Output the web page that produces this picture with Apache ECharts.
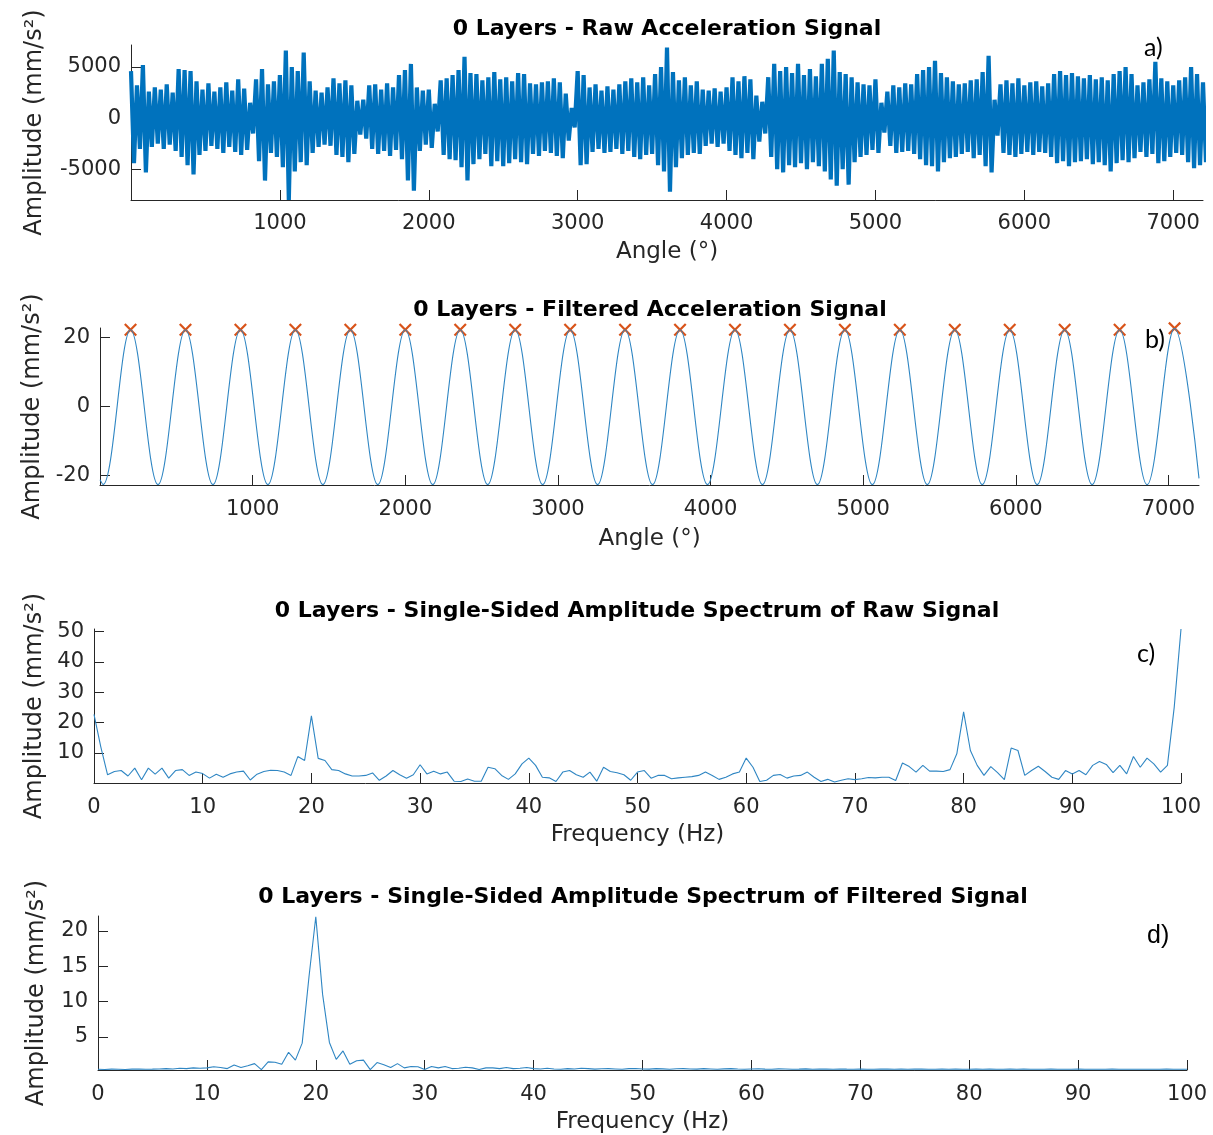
<!DOCTYPE html>
<html><head><meta charset="utf-8">
<script src="https://cdn.jsdelivr.net/npm/echarts@6/dist/echarts.min.js"></script>
<style>html,body{margin:0;padding:0;background:#fff}#c{width:1213px;height:1135px}</style>
</head><body><div id="c"></div>
<script>
// ---------- Panel a: raw acceleration (extremes read per 40° bin) ----------
const rawBinStep = 40; // degrees per bin
const rawPeaks = [
 4600,3200,5200,2600,3000,2800,3300,2500,4800,4700,
 4600,3600,2800,3400,2600,3000,3500,2700,3800,2900,
 1500,3800,4800,3300,3600,4200,6600,5000,4600,6400,
 3600,2700,2500,3000,3900,3400,3700,3200,1700,1800,
 3200,3300,2800,3400,3000,4200,4700,5300,3000,2700,
 2800,1400,3700,3900,4200,4700,6000,4400,4300,3700,
 4000,4500,3800,4000,3600,4400,4300,3400,3300,3500,
 3600,3900,3500,2400,1000,4600,4200,3000,3300,2700,
 3100,2800,3300,3600,3900,3500,4000,3200,4300,5000,
 6900,4500,3700,4000,3200,3600,2800,2700,2900,2600,
 3000,4000,3600,4100,3800,2200,1600,4000,5300,4600,
 5000,4400,5300,4200,4800,4100,5300,5800,6600,4500,
 4300,4000,3500,3300,3200,3800,1500,2600,3200,3000,
 3400,3300,4300,4700,5000,5600,4400,4000,3600,3300,
 3400,3700,3800,4500,6100,1800,3300,3700,3400,3900,
 3200,3500,3600,3100,3400,4300,4600,4200,4400,4100,
 3900,4200,3800,4000,3700,4300,4600,5000,4300,3200,
 3500,3800,5500,3900,3600,3200,3700,4000,5000,4300,
 3500];
const rawTroughs = [
 -4400,-3000,-5300,-2800,-2500,-3000,-2600,-3200,-3800,-4600,
 -5500,-3600,-3200,-2700,-3000,-3400,-2800,-3300,-3600,-3100,
 -1500,-4200,-6100,-3400,-3800,-4800,-8000,-5200,-4300,-4600,
 -3400,-2800,-2600,-2700,-3600,-3800,-4300,-3500,-1600,-2000,
 -3000,-3500,-3200,-3700,-3100,-4000,-6100,-7100,-3200,-2600,
 -2900,-1300,-3600,-4000,-4100,-4800,-6100,-4500,-4000,-3500,
 -4700,-4200,-4700,-4400,-4000,-4300,-4500,-3500,-3700,-3200,
 -3400,-3700,-3900,-2200,-900,-4600,-4500,-3300,-3000,-3400,
 -3300,-3000,-3500,-3200,-3800,-4000,-3600,-3500,-4600,-5200,
 -7200,-4800,-3900,-3600,-3400,-3500,-2700,-2500,-2800,-2500,
 -3200,-3600,-3900,-3400,-4000,-2300,-1500,-3800,-5000,-5300,
 -4600,-4800,-4400,-5000,-4300,-4700,-5200,-6000,-6600,-5000,
 -6500,-4300,-3800,-3600,-3100,-3400,-1400,-2700,-3400,-3300,
 -3200,-3500,-4000,-4600,-4700,-5200,-4300,-3900,-3800,-3500,
 -3300,-3900,-3600,-4700,-5300,-1700,-3400,-3600,-3800,-3500,
 -3300,-3600,-3300,-3400,-3800,-4400,-4200,-4700,-4300,-4200,
 -4000,-4500,-4300,-4600,-5200,-4400,-4100,-4300,-3900,-3300,
 -3800,-3500,-4400,-4200,-3800,-3400,-3600,-4300,-4900,-4600,
 -4300];

// ---------- Panel b: filtered signal (read extremes) ----------
const filtPeakAngles  = [200,560,920,1280,1640,2000,2360,2720,3080,3440,3800,4160,4520,4880,5240,5600,5960,6320,6680,7040];
const filtPeakValues  = [22.2,22.2,22.2,22.2,22.2,22.2,22.2,22.2,22.2,22.2,22.2,22.2,22.2,22.2,22.2,22.2,22.2,22.2,22.2,22.6];
const filtTroughAngles = [20,380,740,1100,1460,1820,2180,2540,2900,3260,3620,3980,4340,4700,5060,5420,5780,6140,6500,6860];
const filtTroughValues = [-22.6,-22.6,-22.6,-22.6,-22.6,-22.6,-22.6,-22.6,-22.6,-22.6,-22.6,-22.6,-22.6,-22.6,-22.6,-22.6,-22.6,-22.6,-22.6,-22.6];
const filtEndAngles = [0, 7200];
const filtEndValues = [-21.2, -20.8];

// ---------- Panels c, d: spectra, 0.625 Hz bins 0..100 Hz ----------
const freqStep = 0.625;
const rawSpectrum = [
 22.7,12,2.8,3.9,4.2,2.4,5.0,1.2,5.0,3.0,
 5.0,1.7,4.2,4.5,2.6,3.7,3.2,1.7,3.0,2.0,
 3.1,3.7,4.0,1.1,3.0,3.9,4.3,4.2,3.7,2.6,
 8.8,7.5,22.2,8.2,7.5,4.5,4.2,3.1,2.4,2.4,
 2.6,3.4,1.0,2.4,4.2,2.8,1.7,2.8,6.1,3.1,
 4.0,3.1,3.7,0.7,0.6,1.4,0.7,0.7,5.3,4.8,
 2.6,1.3,3.1,6.4,8.3,5.9,2.0,1.8,0.6,3.7,
 4.2,2.8,2.0,3.7,0.7,5.3,3.9,3.5,2.8,1.0,
 3.7,4.2,1.7,2.6,2.6,1.5,1.8,2.0,2.2,2.6,
 3.7,2.6,1.3,2.0,3.1,3.7,8.3,5.3,0.6,1.0,
 2.6,2.9,1.7,2.4,2.6,3.7,2.0,0.6,1.3,0.4,
 1.0,1.5,1.2,1.5,1.9,1.8,2.0,2.0,0.9,6.7,
 5.5,3.7,5.9,4.0,4.0,3.9,4.5,9.7,23.5,10.8,
 5.9,2.6,5.5,3.5,1.2,11.6,10.8,2.6,4.2,5.6,
 3.9,2.0,1.3,4.2,3.1,4.2,2.8,5.9,7.2,6.2,
 3.5,5.9,3.1,8.8,5.3,8.3,6.4,3.7,5.9,25,
 50.8];
const filtSpectrum = [
 0.4,0.38,0.42,0.4,0.38,0.42,0.45,0.4,0.42,0.45,
 0.5,0.45,0.55,0.5,0.6,0.55,0.6,0.75,0.65,0.5,
 1.0,0.65,0.9,1.2,0.36,1.45,1.4,1.1,2.8,1.7,
 4.1,13.5,22.0,11,4.2,1.8,3.0,1.1,1.6,1.7,
 0.36,1.35,1.05,0.65,1.2,0.6,0.8,0.75,0.36,0.8,
 0.6,0.8,0.5,0.55,0.7,0.6,0.36,0.6,0.6,0.5,
 0.65,0.5,0.55,0.65,0.5,0.45,0.55,0.45,0.4,0.5,
 0.45,0.55,0.5,0.42,0.48,0.5,0.45,0.4,0.5,0.52,
 0.45,0.42,0.5,0.46,0.4,0.48,0.5,0.44,0.42,0.5,
 0.45,0.4,0.46,0.5,0.44,0.4,0.45,0.48,0.42,0.4,
 0.46,0.44,0.4,0.42,0.46,0.4,0.44,0.42,0.4,0.45,
 0.42,0.4,0.44,0.41,0.4,0.43,0.42,0.4,0.44,0.4,
 0.42,0.43,0.4,0.41,0.44,0.4,0.42,0.4,0.41,0.43,
 0.4,0.42,0.4,0.41,0.42,0.4,0.43,0.4,0.41,0.4,
 0.42,0.4,0.41,0.4,0.42,0.4,0.41,0.4,0.4,0.42,
 0.4,0.41,0.4,0.4,0.41,0.4,0.4,0.42,0.4,0.41,
 0.4];

// ---------- Tick labels ----------
const angleTicks = [1000,2000,3000,4000,5000,6000,7000];
const freqTicks = [0,10,20,30,40,50,60,70,80,90,100];
const rawYTicks = [-5000,0,5000];
const filtYTicks = [-20,0,20];
const rawSpecYTicks = [10,20,30,40,50];
const filtSpecYTicks = [5,10,15,20];

const titles = [
 '0 Layers - Raw Acceleration Signal',
 '0 Layers - Filtered Acceleration Signal',
 '0 Layers - Single-Sided Amplitude Spectrum of Raw Signal',
 '0 Layers - Single-Sided Amplitude Spectrum of Filtered Signal'];
const yName = 'Amplitude (mm/s²)';

// ---------- Build series data ----------
const rawTrace = [];
rawPeaks.forEach((v, i) => {
  rawTrace.push([i * rawBinStep, v]);
  rawTrace.push([i * rawBinStep + rawBinStep / 2, rawTroughs[i]]);
});
const filtPts = [];
filtEndAngles.forEach((a, i) => filtPts.push([a, filtEndValues[i]]));
filtPeakAngles.forEach((a, i) => filtPts.push([a, filtPeakValues[i]]));
filtTroughAngles.forEach((a, i) => filtPts.push([a, filtTroughValues[i]]));
filtPts.sort((p, q) => p[0] - q[0]);
const peakMarks = filtPeakAngles.map((a, i) => [a, filtPeakValues[i]]);
const rawSpecPts = rawSpectrum.map((v, i) => [i * freqStep, v]);
const filtSpecPts = filtSpectrum.map((v, i) => [i * freqStep, v]);

const ink = '#262626';
const font = 'DejaVu Sans';
function xAx(g, min, max, ticks, labels, name, nameGap, margin) {
  return {type: 'value', gridIndex: g, min, max, name, nameLocation: 'middle', nameGap,
    nameTextStyle: {fontFamily: font, fontSize: 23, color: ink},
    axisLine: {show: true, onZero: false, lineStyle: {color: ink, width: 1}},
    axisTick: {show: true, inside: true, length: 10, customValues: ticks, lineStyle: {color: ink, width: 1}},
    axisLabel: {customValues: labels, margin, fontFamily: font, fontSize: 21, color: ink, formatter: v => String(v)},
    splitLine: {show: false}};
}
function yAx(g, min, max, ticks, nameGap) {
  return {type: 'value', gridIndex: g, min, max, name: yName, nameLocation: 'middle', nameGap,
    nameTextStyle: {fontFamily: font, fontSize: 24, color: ink},
    axisLine: {show: true, onZero: false, lineStyle: {color: ink, width: 1}},
    axisTick: {show: true, inside: true, length: 10, customValues: ticks, lineStyle: {color: ink, width: 1}},
    axisLabel: {customValues: ticks, margin: 10, fontFamily: font, fontSize: 21, color: ink, formatter: v => String(v)},
    splitLine: {show: false}};
}
const ttl = (text, x, y) => ({text, left: x, top: y, textAlign: 'center', padding: 0,
  textStyle: {fontFamily: font, fontWeight: 'bold', fontSize: 22, color: '#000'}});
const letter = (t, x, y, fam) => ({type: 'text', left: x, top: y,
  style: {text: t, font: '25px ' + fam, fill: '#000'}});

const blue = '#0072BD';
const chart = echarts.init(document.getElementById('c'), null, {renderer: 'canvas'});
chart.setOption({
  animation: false,
  backgroundColor: '#fff',
  title: [ttl(titles[0], 667, 18), ttl(titles[1], 650, 299), ttl(titles[2], 637, 600), ttl(titles[3], 643, 886)],
  grid: [
    {left: 131, top: 45, width: 1072, height: 155},
    {left: 100, top: 328, width: 1099, height: 157},
    {left: 94, top: 629, width: 1087, height: 154},
    {left: 98, top: 916, width: 1089, height: 154}],
  xAxis: [
    xAx(0, 0, 7200, angleTicks, angleTicks, 'Angle (°)', 41, 13),
    xAx(1, 0, 7200, angleTicks, angleTicks, 'Angle (°)', 43, 14),
    xAx(2, 0, 100, freqTicks.slice(1), freqTicks, 'Frequency (Hz)', 41, 14),
    xAx(3, 0, 100, freqTicks.slice(1), freqTicks, 'Frequency (Hz)', 41, 14)],
  yAxis: [
    yAx(0, -8000, 7150, rawYTicks, 84),
    yAx(1, -22.7, 22.7, filtYTicks, 55),
    yAx(2, 0.1, 50.8, rawSpecYTicks, 47),
    yAx(3, 0.3, 22.1, filtSpecYTicks, 49)],
  series: [
    {type: 'line', xAxisIndex: 0, yAxisIndex: 0, data: rawTrace, showSymbol: false, symbol: 'none',
     lineStyle: {color: blue, width: 4.2, join: 'bevel'}, clip: true},
    {type: 'line', xAxisIndex: 1, yAxisIndex: 1, data: filtPts, showSymbol: false, symbol: 'none', smooth: 0.36,
     lineStyle: {color: '#2f86c3', width: 1.1}, clip: true},
    {type: 'scatter', xAxisIndex: 1, yAxisIndex: 1, data: peakMarks, clip: false,
     symbol: 'path://M0,1.2L1.2,0L5,3.8L8.8,0L10,1.2L6.2,5L10,8.8L8.8,10L5,6.2L1.2,10L0,8.8L3.8,5Z',
     symbolSize: 13, itemStyle: {color: '#D95319', opacity: 1}},
    {type: 'line', xAxisIndex: 2, yAxisIndex: 2, data: rawSpecPts, showSymbol: false, symbol: 'none',
     lineStyle: {color: '#2f86c3', width: 1.1}, clip: true},
    {type: 'line', xAxisIndex: 3, yAxisIndex: 3, data: filtSpecPts, showSymbol: false, symbol: 'none',
     lineStyle: {color: '#2f86c3', width: 1.1}, clip: true}],
  graphic: [
    letter('a)', 1144, 35, 'Lato'),
    letter('b)', 1145, 327, 'Lato'),
    letter('c)', 1137, 641, 'Lato'),
    letter('d)', 1147, 924, '"Liberation Sans"')]
});
</script></body></html>
